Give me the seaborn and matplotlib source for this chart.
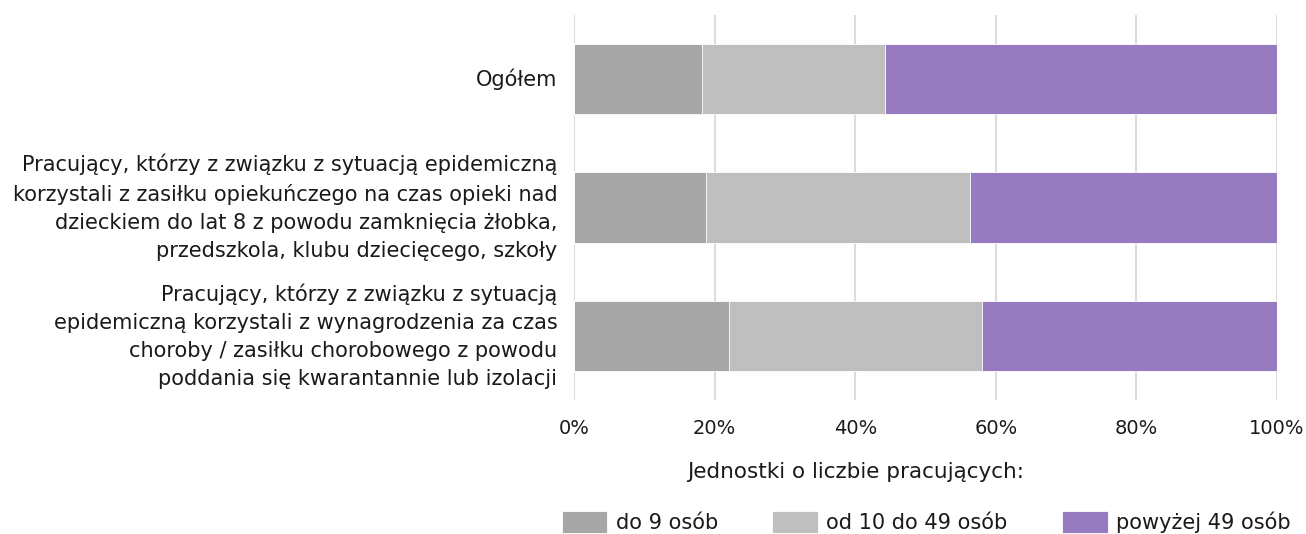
import matplotlib
matplotlib.use('Agg')
import pandas as pd
import seaborn as sns
import matplotlib.pyplot as plt

# Data (percent of each group)
categories = [
    'Ogółem',
    'Pracujący, którzy z związku z sytuacją epidemiczną\n'
    'korzystali z zasiłku opiekuńczego na czas opieki nad\n'
    'dzieckiem do lat 8 z powodu zamknięcia żłobka,\n'
    'przedszkola, klubu dziecięcego, szkoły',
    'Pracujący, którzy z związku z sytuacją\n'
    'epidemiczną korzystali z wynagrodzenia za czas\n'
    'choroby / zasiłku chorobowego z powodu\n'
    'poddania się kwarantannie lub izolacji',
]
do_9 = [18.2, 18.8, 22.1]
od_10_49 = [26.0, 37.6, 35.9]
powyzej_49 = [55.8, 43.6, 42.0]

series_labels = ['do 9 osób', 'od 10 do 49 osób', 'powyżej 49 osób']
colors = ['#a6a6a6', '#bfbfbf', '#967bc0']
x_ticks = [0, 20, 40, 60, 80, 100]
x_ticklabels = ['0%', '20%', '40%', '60%', '80%', '100%']

sns.set_theme(style='white')
plt.rcParams['font.family'] = ['DejaVu Sans']

df = pd.DataFrame({'kategoria': categories})
df['s1'] = do_9
df['s2'] = df['s1'] + pd.Series(od_10_49)
df['s3'] = df['s2'] + pd.Series(powyzej_49)

fig = plt.figure(figsize=(13.06, 5.34), dpi=100)
ax = fig.add_axes([0.4395, 0.251, 0.5383, 0.7209])

# stacked bars: draw cumulative totals, largest first
for col, color, label in zip(['s3', 's2', 's1'], colors[::-1], series_labels[::-1]):
    sns.barplot(data=df, x=col, y='kategoria', color=color, width=0.55,
                saturation=1, edgecolor='white', linewidth=0.6, label=label, ax=ax)

handles, labels = ax.get_legend_handles_labels()
if ax.get_legend() is not None:
    ax.get_legend().remove()

ax.set_xlim(0, 100)
ax.set_ylim(2.5, -0.5)
ax.set_xticks(x_ticks)
ax.set_xticklabels(x_ticklabels)
ax.set_xlabel('')
ax.set_ylabel('')
ax.grid(axis='x', color='#dcdcdc', linewidth=1.5)
ax.set_axisbelow(True)
sns.despine(ax=ax, left=True, bottom=True)
ax.tick_params(axis='y', length=0, pad=12, labelsize=15, labelcolor='#1a1a1a')
ax.tick_params(axis='x', length=0, pad=14, labelsize=14, labelcolor='#1a1a1a')
for lbl in ax.get_yticklabels():
    lbl.set_linespacing(1.5)
    lbl.set_va('center')

fig.text(856 / 1306, 1 - 472 / 534, 'Jednostki o liczbie pracujących:',
         ha='center', va='center', fontsize=15.5, color='#1a1a1a')

fig.legend(handles[::-1], labels[::-1], loc='center',
           bbox_to_anchor=(926 / 1306, 1 - 522 / 534), ncol=3, frameon=False,
           fontsize=15, handlelength=2.2, handleheight=1.2, handletextpad=0.4,
           columnspacing=2.6, labelcolor='#1a1a1a')

fig.savefig('out.png', dpi=100)
